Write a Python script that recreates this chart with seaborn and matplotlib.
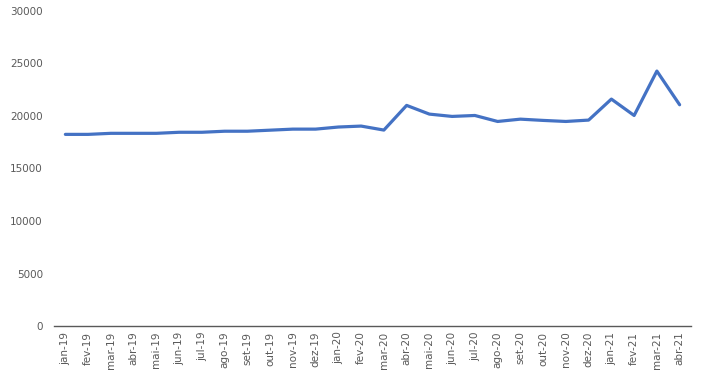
import matplotlib.pyplot as plt
import pandas as pd
import seaborn as sns
import numpy as np

months = ["jan-19", "fev-19", "mar-19", "abr-19", "mai-19", "jun-19", "jul-19",
          "ago-19", "set-19", "out-19", "nov-19", "dez-19", "jan-20", "fev-20",
          "mar-20", "abr-20", "mai-20", "jun-20", "jul-20", "ago-20", "set-20",
          "out-20", "nov-20", "dez-20", "jan-21", "fev-21", "mar-21", "abr-21"]
values = [18250, 18250, 18350, 18350, 18350, 18450, 18450,
          18550, 18550, 18650, 18750, 18750, 18950, 19040,
          18660, 21010, 20180, 19960, 20050, 19480, 19700,
          19580, 19480, 19610, 21610, 20050, 24280, 21070]

df = pd.DataFrame({"pos": np.arange(len(months)), "valor": values})

sns.set_style("white")
fig = plt.figure(figsize=(7.11, 3.85), dpi=100)
ax = fig.add_axes([54 / 711, 1 - 326 / 385, (691 - 54) / 711, (326 - 11) / 385])

sns.lineplot(data=df, x="pos", y="valor", color="#4472C4", linewidth=2.3, ax=ax)

ax.set_xlim(-0.5, len(months) - 0.5)
ax.set_ylim(0, 30000)
ax.set_yticks(range(0, 30001, 5000))
ax.set_xticks(df["pos"])
ax.set_xticklabels(months, rotation=90, fontsize=7.5, color="#595959")
ax.set_xticks(np.arange(-0.5, len(months)), minor=True)
ax.tick_params(axis="x", which="major", length=0, pad=4)
ax.tick_params(axis="x", which="minor", length=4, color="#595959", width=0.8)
ax.tick_params(axis="y", length=0, labelsize=7.5, labelcolor="#595959", pad=8)
ax.set_xlabel("")
ax.set_ylabel("")
for s in ["top", "right", "left"]:
    ax.spines[s].set_visible(False)
ax.spines["bottom"].set_color("#595959")
ax.spines["bottom"].set_linewidth(1)

plt.savefig("out.png", dpi=100)
